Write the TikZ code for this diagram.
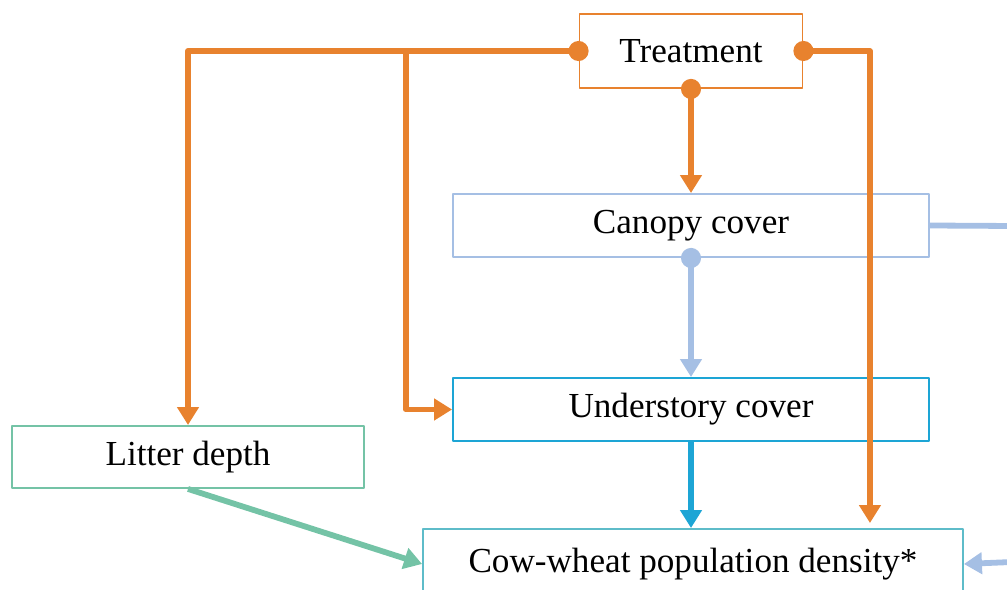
\documentclass[tikz,border=0pt]{standalone}
\usepackage{fontspec}
\setmainfont{Liberation Serif}
\usetikzlibrary{arrows.meta}
\definecolor{treatorange}{HTML}{E8822E}
\definecolor{canopyblue}{HTML}{A5BFE4}
\definecolor{underblue}{HTML}{1DA5D5}
\definecolor{littergreen}{HTML}{74C3A6}
\definecolor{cowteal}{HTML}{5EBCC9}
\begin{document}
\begin{tikzpicture}[x=0.02cm,y=-0.02cm,line join=round,
    box/.style={draw,line width=1.1pt,fill=white,inner sep=0pt,font=\fontsize{20}{24}\selectfont},
    link/.style={line width=3.3pt,-{Triangle[length=0.36cm,width=0.42cm]}},
    dotlink/.style={line width=3.3pt,{Circle[length=0.4cm]}-{Triangle[length=0.36cm,width=0.42cm]},shorten <=-0.2cm}]
  \useasboundingbox (0,0) rectangle (1007,590);
  \clip (0,0) rectangle (1007,590);
  \draw
    (691,51) node[box,draw=treatorange,minimum width=4.46cm,minimum height=1.48cm] (treat){Treatment}
    (691,225.5) node[box,draw=canopyblue,minimum width=9.52cm,minimum height=1.26cm] (canopy){Canopy cover}
    (691,409.5) node[box,draw=underblue,minimum width=9.52cm,minimum height=1.26cm] (under){Understory cover}
    (188,457) node[box,draw=littergreen,minimum width=7.04cm,minimum height=1.24cm] (litter){Litter depth}
    (693,564) node[box,draw=cowteal,minimum width=10.8cm,minimum height=1.4cm] (cow){Cow-wheat population density*};
  \coordinate (split) at (406,51);
  \coordinate (offR) at (1012,226);
  \coordinate (inR) at (1012,562);
  \begin{scope}[treatorange]
    \draw[dotlink] (treat.west) -| (litter.north);
    \draw[link] (split) |- (under.west);
    \draw[dotlink] (treat.south) -- (canopy.north);
    \draw[dotlink] (treat.east) -| ([xshift=3.54cm,yshift=0.1cm]cow.north);
  \end{scope}
  \begin{scope}[canopyblue]
    \draw[line width=3.3pt] (canopy.east) -- (offR);
    \draw[dotlink] (canopy.south) -- (under.north);
    \draw[link] (inR) -- (cow.east);
  \end{scope}
  \draw[link,underblue] (under.south) -- (under.south |- cow.north);
  \draw[link,littergreen] (litter.south) -- (cow.west);
\end{tikzpicture}
\end{document}
